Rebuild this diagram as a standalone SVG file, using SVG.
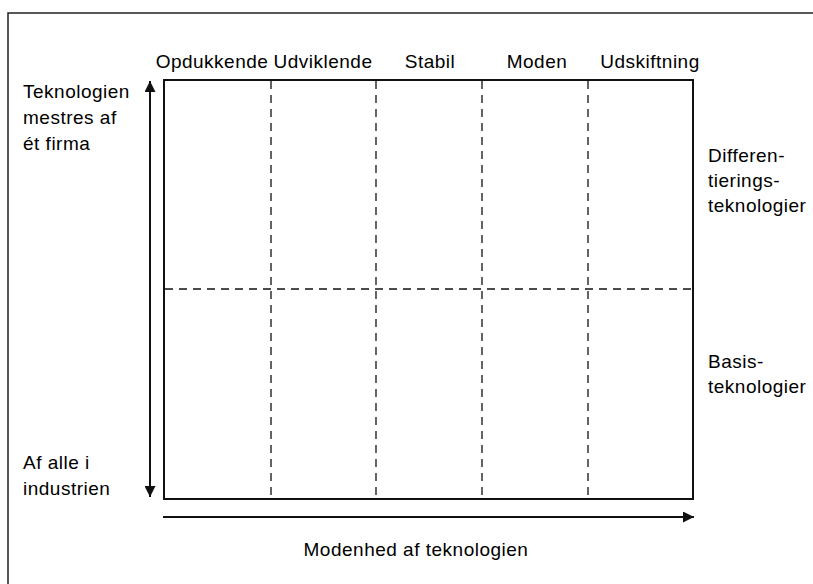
<svg xmlns="http://www.w3.org/2000/svg" width="813" height="584" viewBox="0 0 813 584">
<defs>
<style>
text{font-family:"Liberation Sans",Arial,sans-serif;font-size:19px;letter-spacing:0.5px;fill:#000}
.frame{fill:none;stroke:#222;stroke-width:1.5}
.box{fill:none;stroke:#111;stroke-width:2}
.dash{stroke:#111;stroke-width:1.3;stroke-dasharray:8 6;fill:none}
.axis{stroke:#111;stroke-width:2;fill:none}
</style>
<marker id="ah" viewBox="0 0 10 10" refX="10" refY="5" markerWidth="6" markerHeight="5.5" orient="auto-start-reverse" markerUnits="strokeWidth">
<path d="M0,0 L10,5 L0,10 z" fill="#111"/>
</marker>
</defs>
<rect width="813" height="584" fill="#fff"/>
<rect class="frame" x="8" y="13" width="820" height="600"/>
<g id="grid">
<rect class="box" x="164" y="80" width="529" height="419"/>
<line class="dash" x1="271" y1="81" x2="271" y2="498"/>
<line class="dash" x1="376" y1="81" x2="376" y2="498"/>
<line class="dash" x1="482" y1="81" x2="482" y2="498"/>
<line class="dash" x1="588" y1="81" x2="588" y2="498"/>
<line class="dash" x1="165" y1="289" x2="692" y2="289"/>
</g>
<g id="connectors">
<line class="axis" x1="150" y1="81" x2="150" y2="497" marker-start="url(#ah)" marker-end="url(#ah)"/>
<line class="axis" x1="163" y1="517" x2="694" y2="517" marker-end="url(#ah)"/>
</g>
<g id="headers" text-anchor="middle">
<text x="212" y="68">Opdukkende</text>
<text x="323" y="68">Udviklende</text>
<text x="430" y="68">Stabil</text>
<text x="537" y="68">Moden</text>
<text x="650" y="68">Udskiftning</text>
</g>
<g id="top-label">
<text x="23" y="98">Teknologien</text>
<text x="23" y="124">mestres af</text>
<text x="23" y="150">ét firma</text>
</g>
<g id="bottom-label">
<text x="23" y="469">Af alle i</text>
<text x="23" y="495">industrien</text>
</g>
<g id="diff-label">
<text x="708" y="162">Differen-</text>
<text x="708" y="187">tierings-</text>
<text x="708" y="212">teknologier</text>
</g>
<g id="basis-label">
<text x="708" y="368">Basis-</text>
<text x="708" y="393">teknologier</text>
</g>
<g id="axis-label">
<text x="416" y="556" text-anchor="middle">Modenhed af teknologien</text>
</g>
</svg>
